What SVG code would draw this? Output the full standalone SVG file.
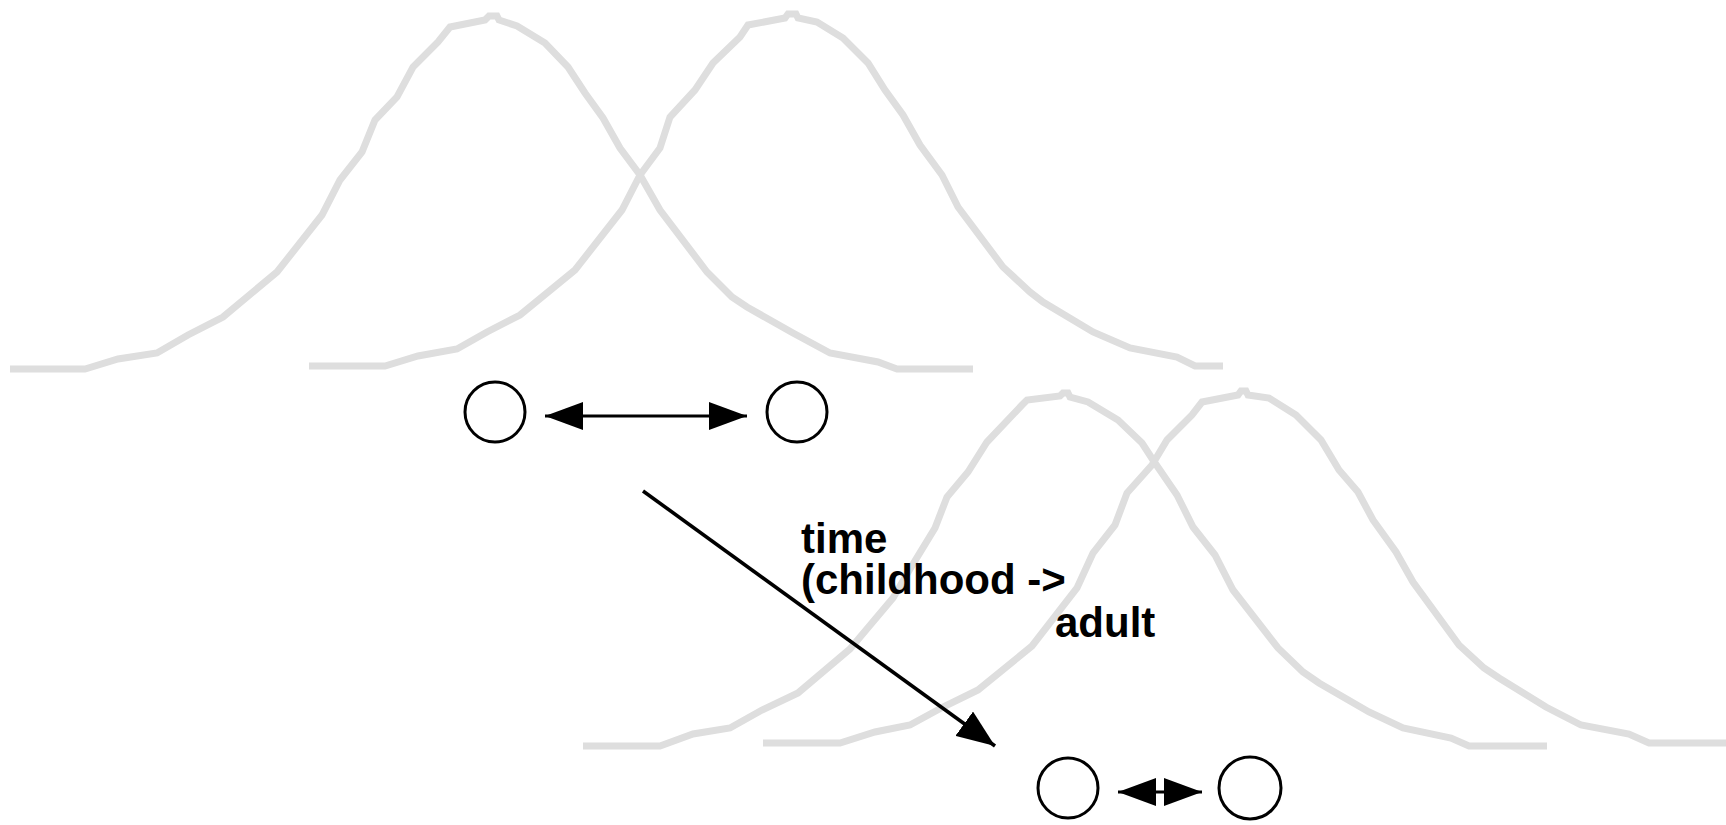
<svg xmlns="http://www.w3.org/2000/svg" width="1726" height="825" viewBox="0 0 1726 825">
<style>
.curve{fill:none;stroke:#dedede;stroke-width:7;stroke-linejoin:miter}
.node{fill:#fff;stroke:#000;stroke-width:3}
.conn{fill:none;stroke:#000;stroke-width:3}
.conn-thick{stroke-width:3.6}
.lbl{font-family:"Liberation Sans",Arial,Helvetica,sans-serif;font-weight:bold;font-size:42px;fill:#000}
</style>
<defs>
<marker id="ah" markerUnits="userSpaceOnUse" viewBox="0 0 38 28" refX="38" refY="14" markerWidth="38" markerHeight="28" orient="auto-start-reverse">
<path d="M0,0 L38,14 L0,28 z" fill="#000"/>
</marker>
<marker id="ah2" markerUnits="userSpaceOnUse" viewBox="0 0 38 30" refX="38" refY="15" markerWidth="38" markerHeight="30" orient="auto">
<path d="M0,0 L38,15 L0,30 z" fill="#000"/>
</marker>
</defs>
<rect width="1726" height="825" fill="#fff"/>
<g id="distributions">
<polyline id="curve-child-1" class="curve" points="10,369 85,369 118,359 157,353 188,335 223,317 277,272 322,215 340,180 362,152 375,120 397,97 413,67 438,42 450,27 485,20 489,16 497,16 499,20 517,26 545,43 568,67 585,93 603,118 620,148 640,175 660,210 707,272 732,297 747,307 793,333 830,353 878,362 897,369 973,369"/>
<polyline id="curve-child-2" class="curve" points="309,366 385,366 418,356 457,349 487,332 520,315 575,270 622,210 640,175 660,148 670,117 695,90 713,63 740,37 748,25 785,18 788,14 796,14 798,18 817,22 843,38 868,63 885,90 903,115 920,145 942,175 958,207 1003,267 1030,292 1043,302 1093,332 1130,348 1177,357 1195,366 1223,366"/>
<polyline id="curve-adult-1" class="curve" points="583,746 660,746 693,734 730,728 762,710 798,693 850,649 893,598 910,569 935,528 947,497 968,472 987,442 1022,405 1027,400 1060,396 1063,393 1068,393 1070,397 1088,402 1118,420 1142,443 1153,460 1177,495 1193,527 1215,555 1233,590 1278,648 1303,672 1319,683 1369,712 1403,728 1451,738 1469,746 1547,746"/>
<polyline id="curve-adult-2" class="curve" points="763,743 840,743 875,732 910,725 943,707 978,690 1032,646 1077,588 1093,553 1115,525 1127,493 1152,465 1167,440 1192,415 1202,402 1238,395 1241,391 1246,391 1248,395 1269,398 1296,415 1321,440 1339,470 1358,492 1373,520 1396,552 1413,582 1459,645 1484,668 1499,678 1546,707 1581,725 1629,734 1649,743 1726,743"/>
</g>
<g id="connectors">
<line id="conn-child" class="conn" x1="545" y1="416" x2="747" y2="416" marker-start="url(#ah)" marker-end="url(#ah)"/>
<line id="conn-time" class="conn conn-thick" x1="643" y1="491" x2="995" y2="746" marker-end="url(#ah2)"/>
<line id="conn-adult" class="conn" x1="1118" y1="792" x2="1202" y2="792" marker-start="url(#ah)" marker-end="url(#ah)"/>
</g>
<g id="node-child-a"><circle class="node" cx="495" cy="412" r="30"/></g>
<g id="node-child-b"><circle class="node" cx="797" cy="412" r="30"/></g>
<g id="node-adult-a"><circle class="node" cx="1068" cy="788" r="30"/></g>
<g id="node-adult-b"><circle class="node" cx="1250" cy="788" r="31"/></g>
<g id="label-time">
<text class="lbl" x="801" y="553">time</text>
<text class="lbl" x="801" y="594">(childhood -&gt;</text>
<text class="lbl" x="1055" y="637">adult</text>
</g>
</svg>
